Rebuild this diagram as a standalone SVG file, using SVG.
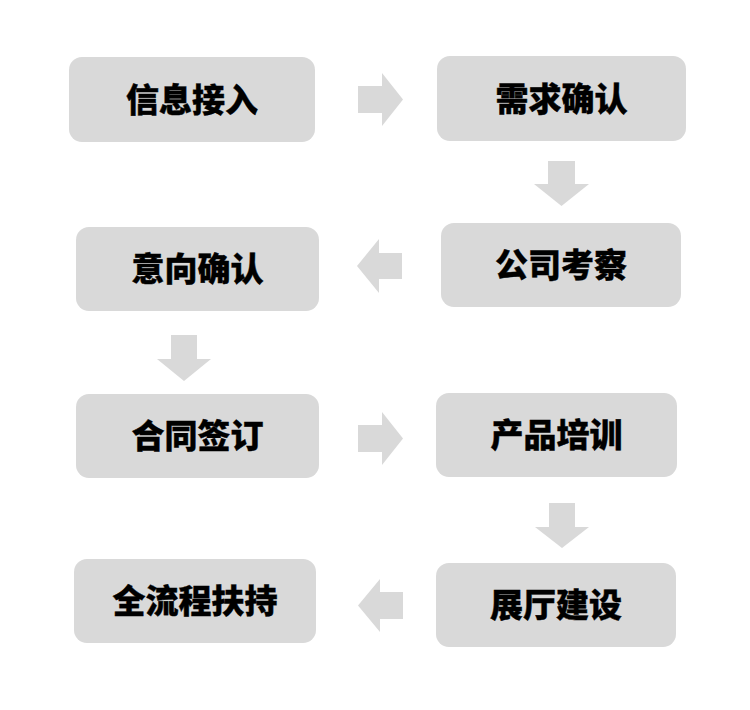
<svg xmlns="http://www.w3.org/2000/svg" width="750" height="710" viewBox="0 0 750 710">
<style>
.box{fill:#d9d9d9}
.arr{fill:#d9d9d9}
.lbl{font-family:"Noto Sans CJK SC","Microsoft YaHei",sans-serif;font-weight:900;font-size:33px;fill:#000;stroke:#000;stroke-width:0.4;text-anchor:middle}
</style>
<rect x="0" y="0" width="750" height="710" fill="#ffffff"/>
<g id="connectors">
<path class="arr" d="M358,86 H382 V73 L403,99.5 L382,126 V113 H358 Z"/>
<path class="arr" d="M548,161 V184 H534 L561.5,206 L589,184 H575 V161 Z"/>
<path class="arr" d="M402,253 H379 V239 L357,266 L379,293 V279 H402 Z"/>
<path class="arr" d="M171,335 V359 H157 L184,381 L211,359 H197 V335 Z"/>
<path class="arr" d="M358,425 H382 V412 L403,438.5 L382,465 V452 H358 Z"/>
<path class="arr" d="M549,503 V527 H535 L562,548 L589,527 H575 V503 Z"/>
<path class="arr" d="M403,592 H380 V579 L358,605.5 L380,632 V619 H403 Z"/>
</g>
<g id="n1"><rect class="box" x="69" y="57" width="246" height="85" rx="13"/><text class="lbl" x="192" y="111.5">信息接入</text></g>
<g id="n2"><rect class="box" x="437" y="56" width="249" height="85" rx="13"/><text class="lbl" x="561.5" y="110.5">需求确认</text></g>
<g id="n3"><rect class="box" x="441" y="223" width="240" height="84" rx="13"/><text class="lbl" x="561" y="277">公司考察</text></g>
<g id="n4"><rect class="box" x="76" y="227" width="243" height="84" rx="13"/><text class="lbl" x="197.5" y="281">意向确认</text></g>
<g id="n5"><rect class="box" x="76" y="394" width="243" height="84" rx="13"/><text class="lbl" x="197.5" y="448">合同签订</text></g>
<g id="n6"><rect class="box" x="436" y="393" width="241" height="84" rx="13"/><text class="lbl" x="556.5" y="447">产品培训</text></g>
<g id="n7"><rect class="box" x="436" y="563" width="240" height="84" rx="13"/><text class="lbl" x="556" y="617">展厅建设</text></g>
<g id="n8"><rect class="box" x="74" y="559" width="242" height="84" rx="13"/><text class="lbl" x="195" y="613">全流程扶持</text></g>
</svg>
